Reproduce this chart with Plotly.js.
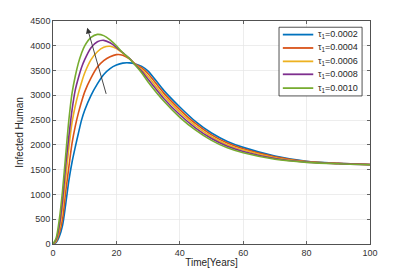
<!DOCTYPE html>
<html>
<head>
<meta charset="utf-8">
<script src="https://cdn.plot.ly/plotly-3.0.1.min.js"></script>
<style>html,body{margin:0;padding:0;background:#fff;}#chart{width:409px;height:273px;}</style>
</head>
<body>
<div id="chart"></div>
<script>
const timeYears = [0,1,2,3,4,5,6,7,8,9,10,12,14,16,18,20,22,24,26,28,30,35,40,45,50,55,60,70,80,90,100];
const tau0002 = [0,30,150,370,800,1280,1650,1950,2230,2500,2700,3000,3230,3420,3540,3610,3650,3655,3634,3585,3490,3095,2765,2470,2240,2070,1950,1775,1670,1630,1605];
const tau0004 = [0,50,220,500,1050,1550,2030,2370,2640,2870,3070,3350,3570,3700,3780,3822,3810,3740,3630,3552,3435,3040,2713,2427,2203,2038,1922,1759,1664,1627,1604];
const tau0006 = [0,70,300,720,1320,1940,2450,2780,3040,3260,3450,3720,3880,3970,3990,3945,3850,3745,3622,3518,3380,2985,2660,2383,2165,2005,1895,1742,1659,1624,1602];
const tau0008 = [0,90,380,880,1580,2170,2700,3100,3350,3560,3720,3960,4080,4110,4060,3970,3860,3750,3614,3484,3325,2932,2608,2340,2128,1972,1868,1726,1653,1621,1601];
const tau0010 = [0,120,500,1070,1790,2500,3040,3380,3650,3850,4000,4170,4230,4205,4120,4000,3860,3748,3605,3450,3270,2880,2556,2297,2091,1940,1840,1710,1648,1618,1600];
const seriesNames = ["τ<sub>1</sub>=0.0002","τ<sub>1</sub>=0.0004","τ<sub>1</sub>=0.0006","τ<sub>1</sub>=0.0008","τ<sub>1</sub>=0.0010"];
const seriesColors = ["#0072BD","#D95319","#EDB120","#7E2F8E","#77AC30"];
const xTicks = [0,20,40,60,80,100];
const yTicks = [0,500,1000,1500,2000,2500,3000,3500,4000,4500];
// arrow: tail (t, value) -> head (t, value)
const arrowTail = [16.9, 3000];
const arrowHead = [10.8, 4366];

const allSeries = [tau0002,tau0004,tau0006,tau0008,tau0010];
const traces = allSeries.map((ys,i)=>({
  x: timeYears, y: ys, type:'scatter', mode:'lines',
  name: seriesNames[i], showlegend:false,
  line:{color:seriesColors[i], width:1.6, shape:'spline', smoothing:0.8}
}));

const fontFam = 'Liberation Sans, Arial, sans-serif';
const axisCommon = {
  showline:true, linecolor:'#262626', linewidth:0.8, mirror:'ticks',
  ticks:'inside', ticklen:3, tickcolor:'#262626', tickwidth:0.7,
  showgrid:true, gridcolor:'#e6e6e6', gridwidth:0.7,
  zeroline:false,
  tickfont:{family:fontFam, size:9, color:'#333333'}
};

// custom compact legend (paper coordinates)
const legendBox = {x0:0.713, x1:0.975, y0:0.664, y1:0.972};
const legendRowY = [0.939, 0.879, 0.819, 0.761, 0.699];
const legendLineX = [0.725, 0.821];
const legendTextX = 0.829;

const shapes = [{
  type:'rect', xref:'paper', yref:'paper',
  x0:legendBox.x0, x1:legendBox.x1, y0:legendBox.y0, y1:legendBox.y1,
  line:{color:'#262626', width:0.8}, fillcolor:'#ffffff', layer:'above'
}];
const annotations = [{
  x:arrowHead[0], y:arrowHead[1], xref:'x', yref:'y',
  ax:arrowTail[0], ay:arrowTail[1], axref:'x', ayref:'y',
  showarrow:true, arrowhead:2, arrowsize:1.3, arrowwidth:0.9, arrowcolor:'#333333', text:''
}];
seriesNames.forEach((nm,i)=>{
  shapes.push({type:'line', xref:'paper', yref:'paper',
    x0:legendLineX[0], x1:legendLineX[1], y0:legendRowY[i], y1:legendRowY[i],
    line:{color:seriesColors[i], width:1.8}, layer:'above'});
  annotations.push({xref:'paper', yref:'paper', x:legendTextX, y:legendRowY[i],
    xanchor:'left', yanchor:'middle', text:nm, showarrow:false,
    font:{family:fontFam, size:9, color:'#262626'}});
});

const layout = {
  width:409, height:273,
  margin:{l:53, r:39, t:21, b:29, pad:0},
  paper_bgcolor:'#fff', plot_bgcolor:'#fff',
  showlegend:false,
  xaxis: Object.assign({}, axisCommon, {
    range:[0,100], tickvals:xTicks, ticktext:xTicks.map(String),
    title:{text:'Time[Years]', standoff:2, font:{family:fontFam, size:10, color:'#262626'}}
  }),
  yaxis: Object.assign({}, axisCommon, {
    range:[0,4500], tickvals:yTicks, ticktext:yTicks.map(String),
    title:{text:'Infected Human', standoff:4, font:{family:'Liberation Sans Narrow, Liberation Sans, Arial, sans-serif', size:10, color:'#262626'}}
  }),
  shapes: shapes,
  annotations: annotations
};

Plotly.newPlot('chart', traces, layout, {displayModeBar:false, staticPlot:true});
</script>
</body>
</html>
